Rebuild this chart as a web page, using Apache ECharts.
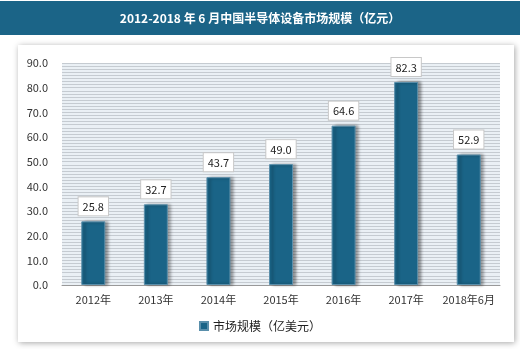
<!DOCTYPE html>
<html><head><meta charset="utf-8">
<script src="https://cdn.jsdelivr.net/npm/echarts@6/dist/echarts.min.js"></script>
<style>html,body{margin:0;padding:0;background:#fff}#c{width:520px;height:349px}</style>
</head><body><div id="c"></div>
<script>
const titleText = '2012-2018 年 6 月中国半导体设备市场规模（亿元）';
const categories = ['2012年','2013年','2014年','2015年','2016年','2017年','2018年6月'];
const values = [25.8, 32.7, 43.7, 49.0, 64.6, 82.3, 52.9];
const seriesName = '市场规模（亿美元）';
const yMin = 0, yMax = 90, yInterval = 10;

const chart = echarts.init(document.getElementById('c'), null, {renderer:'canvas'});
const font = '"Noto Sans CJK SC","DejaVu Sans",sans-serif';
chart.setOption({
  animation:false,
  backgroundColor:'#ffffff',
  graphic:[
    {type:'rect', z:-10, shape:{x:0,y:1,width:520,height:34}, style:{fill:'#1b6487'}},
    {type:'rect', z:-10, shape:{x:18,y:45,width:496,height:297}, style:{fill:'#ffffff', shadowBlur:6, shadowColor:'rgba(0,0,0,0.35)', shadowOffsetX:1, shadowOffsetY:1}},
    {type:'text', z:10, x:260, y:18, style:{text:titleText, fill:'#ffffff', font:'bold 12px '+font, textAlign:'center', textVerticalAlign:'middle'}}
  ],
  grid:{left:62, right:20, top:63, bottom:64, show:true, backgroundColor:'#eaf0f5', borderWidth:0},
  legend:{bottom:12, left:'center', itemWidth:8, itemHeight:8, icon:'rect', textStyle:{fontFamily:font, fontSize:12, color:'#222'}, data:[seriesName]},
  xAxis:{type:'category', data:categories, axisTick:{show:false}, axisLine:{lineStyle:{color:'#999'}},
    axisLabel:{interval:0, color:'#333', fontFamily:font, fontSize:11, margin:9}},
  yAxis:{type:'value', min:yMin, max:yMax, interval:yInterval,
    axisLabel:{color:'#333', fontFamily:font, fontSize:11, formatter:v=>v.toFixed(1), margin:14},
    axisLine:{show:false}, axisTick:{show:false},
    splitLine:{lineStyle:{color:'#c5cbd1', width:1}},
    minorTick:{show:false, splitNumber:8},
    minorSplitLine:{show:true, lineStyle:{color:'#c5cbd1', width:1}}},
  series:[{
    name:seriesName, type:'bar', data:values, barWidth:24,
    itemStyle:{color:'#1a6487', borderColor:'#5a8fab', borderWidth:1, shadowColor:'rgba(0,0,0,0.4)', shadowBlur:3, shadowOffsetX:3, shadowOffsetY:0},
    label:{show:true, position:'top', distance:6, formatter:p=>p.value.toFixed(1), color:'#222', fontFamily:font, fontSize:11,
      backgroundColor:'#ffffff', borderColor:'#c8c8c8', borderWidth:1, padding:[4,4,3,4]}
  }]
});
</script></body></html>
